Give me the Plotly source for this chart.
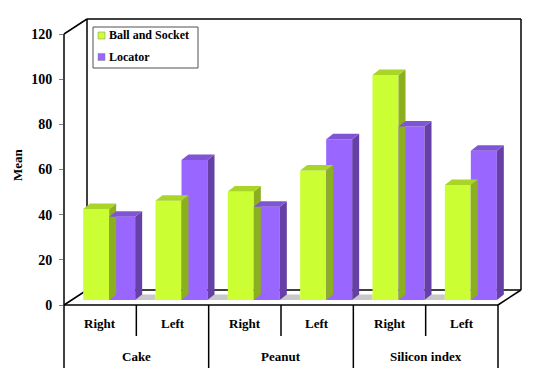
import plotly.graph_objects as go

groups = ["Cake", "Peanut", "Silicon index"]
sides = ["Right", "Left", "Right", "Left", "Right", "Left"]
ball_socket = [40.3, 44, 48, 57.3, 99.6, 50.9]
locator = [36.9, 62, 41.3, 71.2, 76.8, 66.1]
y_ticks = [0, 20, 40, 60, 80, 100, 120]

W, H = 537, 384
L, R, T, B = 64, 498, 34, 305      # front plane of the box, px
BX, BY = 23, 15                    # depth of the box, px
PX, PY = 9, 5                      # where the bar plane sits, px
DX, DY = 7, 5.5                    # depth of a bar, px
FONT = "Liberation Serif"
GREEN, GREEN_SIDE, GREEN_TOP = "#CCFF33", "#8CAF1F", "#A9D428"
PURPLE, PURPLE_SIDE, PURPLE_TOP = "#9966FF", "#6640A6", "#7F55D6"

def fx(p): return p / W
def fy(p): return 1 - p / H

n = len(sides)
cat_px = (R - L) / n
val_px = (B - T) / 120
bar_w = 26 / cat_px

fig = go.Figure()
positions = list(range(n))
offset = -bar_w
for name, vals, col in [("Ball and Socket", ball_socket, GREEN), ("Locator", locator, PURPLE)]:
    fig.add_trace(go.Bar(x=positions, y=vals, name=name, width=bar_w,
                         offset=offset, marker=dict(color=col, line=dict(width=0)),
                         xaxis="x2", yaxis="y2"))
    offset += bar_w

shapes = []
def line(x0, y0, x1, y1, w=1.5, c="#000000"):
    shapes.append(dict(type="line", xref="paper", yref="paper", x0=fx(x0), y0=fy(y0),
                       x1=fx(x1), y1=fy(y1), line=dict(color=c, width=w), layer="below"))

line(L, T, L, B)
line(L, T, L + BX, T - BY)
line(L + BX, T - BY, R + BX, T - BY)
line(L + BX, T - BY, L + BX, B - BY)
line(R + BX, T - BY, R + BX, B - BY)
line(L + BX, B - BY, R + BX, B - BY)
line(L, B, L + BX, B - BY)
line(R, B, R + BX, B - BY)
line(L, B, R, B)

for i in range(n + 1):
    x = L + i * cat_px
    line(x, B, x, 368 if i % 2 == 0 else 336)

dx = DX / cat_px
dy = DY / val_px
def faces(xl, xr, v, side, top):
    shapes.append(dict(type="path", xref="x2", yref="y2",
                       path=f"M{xr},0 L{xr+dx},{dy} L{xr+dx},{v+dy} L{xr},{v} Z",
                       fillcolor=side, line=dict(width=0), layer="above"))
    shapes.append(dict(type="path", xref="x2", yref="y2",
                       path=f"M{xl},{v} L{xl+dx},{v+dy} L{xr+dx},{v+dy} L{xr},{v} Z",
                       fillcolor=top, line=dict(width=0), layer="above"))

for i in range(n):
    if i < n - 1:
        shapes.append(dict(type="path", xref="x2", yref="y2",
                           path=f"M{i+bar_w},0 L{i+bar_w+dx},{dy} L{i+1-bar_w},{dy} L{i+1-bar_w},0 Z",
                           fillcolor="#C8C8C8", line=dict(width=0), layer="below"))
    faces(i - bar_w, i, ball_socket[i], GREEN_SIDE, GREEN_TOP)
    faces(i, i + bar_w, locator[i], PURPLE_SIDE, PURPLE_TOP)

annotations = []
for i, s in enumerate(sides):
    annotations.append(dict(x=i + 0.5, xref="x", y=fy(323), yref="paper", text=f"<b>{s}</b>",
                            xanchor="center", yanchor="middle", showarrow=False,
                            font=dict(family=FONT, size=13, color="#000")))
for i, g in enumerate(groups):
    annotations.append(dict(x=2 * i + 1, xref="x", y=fy(356), yref="paper", text=f"<b>{g}</b>",
                            xanchor="center", yanchor="middle", showarrow=False,
                            font=dict(family=FONT, size=13, color="#000")))
annotations.append(dict(x=fx(17), y=fy(165), xref="paper", yref="paper", text="<b>Mean</b>",
                        xanchor="center", yanchor="middle", textangle=-90, showarrow=False,
                        font=dict(family=FONT, size=13, color="#000")))

shapes.append(dict(type="rect", xref="paper", yref="paper", x0=fx(93), x1=fx(198), y0=fy(68), y1=fy(27),
                   fillcolor="#FFFFFF", line=dict(color="#505050", width=1), layer="above"))
for ly, col, name in [(35.5, GREEN, "Ball and Socket"), (57, PURPLE, "Locator")]:
    shapes.append(dict(type="rect", xref="paper", yref="paper", x0=fx(98), x1=fx(105),
                       y0=fy(ly + 3.5), y1=fy(ly - 3.5), fillcolor=col,
                       line=dict(color="#808080", width=0.5), layer="above"))
    annotations.append(dict(x=fx(107), y=fy(ly), xref="paper", yref="paper", xanchor="left",
                            yanchor="middle", text=f"<b>{name}</b>", showarrow=False,
                            font=dict(family=FONT, size=12, color="#000")))

fig.update_layout(
    width=W, height=H, autosize=False,
    margin=dict(l=0, r=0, t=0, b=0, pad=0, autoexpand=False),
    paper_bgcolor="#FFFFFF", plot_bgcolor="rgba(0,0,0,0)",
    barmode="overlay", showlegend=False,
    shapes=shapes, annotations=annotations,
    xaxis=dict(domain=[fx(L), fx(R)], range=[0, n], showgrid=False, zeroline=False,
               showticklabels=False, ticks="", showline=False),
    yaxis=dict(domain=[fy(B), fy(T)], range=[0, 120], tickvals=y_ticks, ticks="outside",
               ticklen=4, tickcolor="#808080", showgrid=False, zeroline=False, showline=False,
               ticklabelstandoff=4,
               tickfont=dict(family=FONT, size=14, color="#000", weight="bold")),
    xaxis2=dict(domain=[fx(L + PX), fx(R + PX)], range=[-0.5, n - 0.5], visible=False, anchor="y2"),
    yaxis2=dict(domain=[fy(B - PY), fy(T - PY)], range=[0, 120], visible=False, anchor="x2"),
)
fig.add_trace(go.Scatter(x=[0, n], y=[0, 120], mode="markers", marker=dict(opacity=0),
                         showlegend=False, hoverinfo="skip"))
fig.write_html("out.html", config={"displayModeBar": False},
               post_script="document.body.style.margin='0';")
